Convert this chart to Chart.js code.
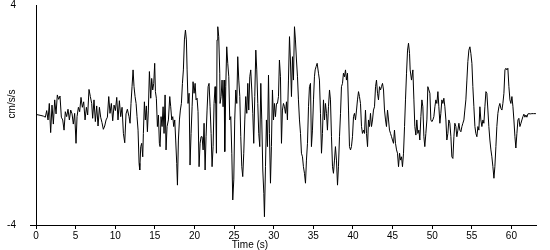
<!DOCTYPE html>
<html>
<head>
<meta charset="utf-8">
<script src="https://cdn.jsdelivr.net/npm/chart.js@4/dist/chart.umd.min.js"></script>
<style>
html,body{margin:0;padding:0;background:#fff;}
#wrap{width:550px;height:250px;}
</style>
</head>
<body>
<div id="wrap"><canvas id="c" width="550" height="250"></canvas></div>
<script>
// ---- data (time in s, acceleration in cm/s/s) ----
const timeSec = [
0,0.51,0.93,1.18,1.35,1.52,1.68,1.85,2.02,2.19,2.36,2.53,2.69,2.86,3.03,3.20,3.37,3.54,3.70,3.87,4.04,4.21,4.38,4.55,4.71,4.88,5.05,5.18,5.35,5.51,5.68,5.85,6.02,6.19,6.36,6.52,6.69,6.86,7.03,7.15,7.32,7.49,7.66,7.83,8.00,8.16,8.33,8.50,8.67,8.84,9.01,9.18,9.34,9.51,9.68,9.85,10.02,10.19,10.35,10.52,10.69,10.86,11.03,11.20,11.36,11.53,11.74,
11.87,11.99,12.12,12.25,12.37,12.50,12.63,12.75,12.88,13.01,13.09,13.22,13.34,13.47,13.55,13.68,13.80,13.93,14.06,14.18,14.31,14.48,14.60,14.73,14.86,14.98,15.07,15.19,15.32,15.45,15.57,15.66,15.78,15.91,16.04,16.16,16.29,16.41,16.54,16.71,16.88,17.00,17.13,17.26,17.38,17.51,17.63,17.76,17.85,17.97,18.10,18.22,18.35,18.48,18.60,18.73,18.86,18.98,19.07,19.19,19.32,19.44,19.57,19.70,19.82,19.95,20.08,20.20,20.33,20.45,20.58,20.71,20.83,20.96,21.09,21.21,21.34,21.46,21.59,21.72,21.84,21.97,22.10,22.22,22.35,22.47,22.60,22.69,22.77,22.85,22.94,23.06,23.19,
23.23,23.36,23.48,23.61,23.74,23.82,23.95,24.07,24.20,24.33,24.45,24.58,24.71,24.83,24.96,25.08,25.21,25.34,25.46,25.59,25.72,25.84,25.97,26.09,26.22,26.35,26.47,26.60,26.73,26.85,26.98,27.10,27.23,27.36,27.48,27.61,27.74,27.86,27.99,28.11,28.24,28.37,28.49,28.62,28.75,28.83,28.96,29.08,29.21,29.34,29.46,29.59,29.71,29.84,29.97,30.09,30.22,30.35,30.47,30.60,30.72,30.85,30.98,31.10,31.23,31.36,31.48,31.61,31.73,31.86,31.99,32.11,32.24,32.37,32.49,32.62,32.74,32.87,33.00,33.12,33.25,33.38,33.50,33.63,33.75,33.88,34.01,34.13,34.26,34.39,34.51,34.64,34.76,34.89,35.02,35.14,
35.23,35.35,35.48,35.65,35.77,35.90,36.03,36.15,36.28,36.41,36.53,36.66,36.78,36.91,37.04,37.16,37.29,37.42,37.54,37.67,37.79,37.92,38.05,38.17,38.30,38.43,38.55,38.68,38.80,38.93,39.06,39.18,39.31,39.44,39.56,39.69,39.81,39.94,40.07,40.19,40.32,40.45,40.57,40.70,40.82,40.95,41.08,41.20,41.33,41.46,41.58,41.71,41.84,41.96,42.09,42.21,42.34,42.47,42.59,42.72,42.85,42.97,43.10,43.22,43.35,43.48,43.60,43.73,43.86,43.98,44.11,44.23,44.36,44.49,44.61,44.74,44.87,44.99,45.12,45.24,45.37,45.50,45.62,45.75,45.88,46.00,46.13,46.25,46.38,46.51,46.63,46.76,46.89,47.01,47.14,
47.22,47.39,47.56,47.69,47.81,47.94,48.06,48.19,48.32,48.44,48.57,48.70,48.82,48.95,49.07,49.20,49.33,49.45,49.58,49.71,49.83,49.96,50.08,50.21,50.34,50.46,50.59,50.72,50.84,50.97,51.09,51.22,51.35,51.47,51.60,51.73,51.85,51.98,52.10,52.23,52.36,52.48,52.61,52.74,52.86,52.99,53.11,53.24,53.37,53.49,53.62,53.75,53.87,54.00,54.12,54.25,54.38,54.50,54.63,54.76,54.88,55.01,55.13,55.26,55.39,55.51,55.64,55.77,55.89,56.02,56.14,56.27,56.40,56.52,56.65,56.78,56.90,57.03,57.15,57.28,57.41,57.53,57.66,57.79,57.91,58.04,58.16,58.29,58.42,58.54,58.67,58.80,58.92,59.05,59.18,59.30,59.43,59.55,59.68,59.81,59.93,60.06,60.19,60.31,60.44,60.56,60.69,60.82,60.94,61.07,61.20,61.32,61.45,61.57,61.70,61.83,61.95,62.08,62.21,62.37,62.58,62.79,63.09
];
const accel = [
0.02,-0.01,-0.04,-0.08,0.16,-0.18,0.42,-0.64,0.36,-0.33,0.55,0.04,0.73,0.57,0.69,-0.08,-0.18,-0.55,0.12,-0.06,0.21,-0.18,0.18,0.04,-0.33,0.06,-1.03,-0.06,0.28,0.12,0.64,0.28,0.48,-0.18,0.28,0.0,0.93,0.67,0.42,-0.12,0.55,-0.24,0.33,-0.40,0.28,-0.08,-0.28,-0.52,-0.40,-0.18,-0.08,0.67,0.06,0.42,-0.21,0.36,0.16,0.64,-0.18,0.52,-0.06,0.28,-0.67,-1.01,0.04,0.21,-0.06,
-0.30,0.42,1.03,1.64,1.03,0.67,0.42,-0.06,-0.55,-1.76,-2.00,-1.15,-1.03,-1.52,-0.67,0.48,-0.18,0.33,-0.61,0.18,1.58,0.61,1.33,0.91,1.15,1.88,0.85,0.61,-0.42,0.00,-1.03,-1.15,-0.06,-0.42,0.30,-0.67,0.73,-1.27,-0.42,-0.18,0.67,0.30,-0.18,-0.06,-0.42,-0.18,-0.91,-1.76,-2.55,-0.91,-0.18,0.18,0.42,1.15,1.64,2.73,3.09,2.73,1.64,0.42,0.79,-1.82,-0.67,0.30,1.21,0.79,1.15,0.55,0.61,0.12,-1.88,-1.03,-0.79,-0.79,-1.27,-0.30,-2.00,-0.79,0.18,1.03,1.15,0.30,-0.67,-1.88,-1.15,0.42,1.03,0.42,-1.39,2.73,3.21,2.85,1.52,
0.42,0.67,1.27,0.30,1.27,-1.33,1.03,2.48,1.88,1.39,-0.18,-0.06,-1.39,-3.09,-2.36,-0.18,0.91,0.42,2.12,1.27,0.67,-0.79,-1.88,-2.24,-1.39,-0.18,0.67,0.06,1.15,0.18,1.39,1.64,0.91,0.06,-1.03,0.67,2.36,1.64,0.42,-0.67,-1.15,1.15,-0.18,-2.00,-2.85,-3.70,-1.88,-0.18,-1.15,1.45,-0.67,-2.48,-1.15,0.91,-0.18,0.42,-0.06,0.42,0.42,0.67,2.00,1.39,-1.03,0.18,0.42,0.30,0.06,0.48,-0.18,1.27,2.85,2.00,0.67,2.12,1.27,3.21,2.73,2.00,1.39,0.55,-0.18,-0.67,-1.39,-1.52,-1.88,-2.12,-2.48,-1.64,-1.03,0.30,1.03,1.15,-1.15,-0.55,0.55,1.39,
1.64,1.76,1.88,1.52,1.27,0.06,-1.39,-0.67,0.55,-0.18,0.42,0.06,-0.55,0.30,0.91,0.55,-0.79,-1.88,-2.12,-1.64,-1.15,-1.64,-2.55,-1.88,-0.79,0.06,1.03,1.15,1.52,1.39,1.64,1.27,1.52,0.18,-1.15,-1.27,-1.15,-0.79,-0.06,0.06,-0.18,0.18,0.55,0.85,0.67,0.42,-0.42,-0.67,-0.55,-0.67,0.18,-0.67,-1.15,-0.18,-0.42,0.06,-0.42,-0.18,0.18,0.30,1.03,1.27,0.79,0.55,1.03,0.91,1.03,1.15,0.91,0.18,-0.18,-0.42,0.18,-0.18,-0.55,-0.67,-0.79,-0.91,-1.03,-0.55,-1.03,-1.27,-1.39,-1.88,-1.39,-1.64,-1.52,-1.88,-1.39,-0.42,0.55,1.52,2.36,2.61,2.24,
1.64,1.27,1.64,0.55,-0.42,-0.73,-0.18,-0.67,-0.55,-0.91,-0.06,0.55,0.30,-0.79,-1.15,-0.67,-0.18,1.03,0.91,0.79,-0.18,-0.24,-0.18,-0.06,0.30,0.55,0.42,0.85,0.30,-0.30,0.06,0.55,0.42,0.61,0.30,-0.18,-0.91,-0.67,-0.18,-0.30,-0.79,-1.52,-1.58,-0.79,-0.30,-0.42,-0.79,-0.55,-0.30,-0.55,-0.61,-0.42,-0.30,-0.18,0.18,0.55,1.27,1.94,2.36,2.48,2.24,1.88,1.03,0.30,-0.42,-0.67,-0.79,-0.42,-0.55,0.30,-0.18,-0.42,-0.18,-0.30,0.30,0.85,0.79,0.18,-0.42,-0.91,-1.27,-1.52,-1.88,-2.30,-1.88,-1.15,-0.42,0.06,0.30,0.42,0.24,0.18,0.42,0.79,1.64,1.70,1.64,1.70,1.03,0.55,0.42,0.67,0.30,-0.18,-0.79,-1.20,-0.67,-0.18,-0.12,-0.42,-0.30,-0.18,-0.06,0.03,-0.08,0.00,-0.08,0.04,0.05,0.04,0.05,0.05,0.05
];
const xTicks = [0,5,10,15,20,25,30,35,40,45,50,55,60];
const yTicks = [-4,4];
const xMin = 0, xMax = 63.1, yMin = -4, yMax = 4;
const xTitle = 'Time (s)';
const yTitle = 'cm/s/s';

const points = timeSec.map((t, i) => ({x: t, y: accel[i]}));
const FONT = {family: '"Liberation Sans", Arial, sans-serif', size: 10};

const titlePlugin = {
  id: 'axisTitles',
  afterDraw(chart) {
    const ctx = chart.ctx;
    ctx.save();
    ctx.fillStyle = '#000';
    ctx.font = '10px "Liberation Sans", Arial, sans-serif';
    ctx.textAlign = 'center';
    ctx.textBaseline = 'middle';
    ctx.fillText(xTitle, 250, 245);
    ctx.translate(12, 104);
    ctx.rotate(-Math.PI / 2);
    ctx.fillText(yTitle, 0, 0);
    ctx.restore();
  }
};

new Chart(document.getElementById('c'), {
  type: 'line',
  data: {
    datasets: [{
      data: points,
      borderColor: '#000',
      borderWidth: 1,
      pointRadius: 0,
      tension: 0,
      fill: false
    }]
  },
  options: {
    responsive: false,
    animation: false,
    parsing: false,
    layout: {padding: {left: 0, right: 14, top: 5, bottom: 0}},
    plugins: {legend: {display: false}, tooltip: {enabled: false}},
    scales: {
      x: {
        type: 'linear',
        min: xMin, max: xMax,
        afterBuildTicks: s => { s.ticks = xTicks.map(v => ({value: v})); },
        afterFit: s => { s.height = 25; s.paddingLeft = 0; s.paddingRight = 0; },
        ticks: {color: '#000', font: FONT, padding: 1, maxRotation: 0, autoSkip: false},
        grid: {drawOnChartArea: false, drawTicks: true, tickLength: 4, color: '#000'},
        border: {display: true, color: '#000', width: 1}
      },
      y: {
        type: 'linear',
        min: yMin, max: yMax,
        afterBuildTicks: s => { s.ticks = yTicks.map(v => ({value: v})); },
        afterFit: s => { s.width = 36; s.paddingTop = 0; s.paddingBottom = 0; },
        ticks: {color: '#000', font: FONT, padding: 14},
        grid: {drawOnChartArea: false, drawTicks: true, tickLength: 6,
               color: c => (c.tick && c.tick.value === -4) ? '#000' : 'rgba(0,0,0,0)'},
        border: {display: true, color: '#000', width: 1}
      }
    }
  },
  plugins: [titlePlugin]
});
</script>
</body>
</html>
